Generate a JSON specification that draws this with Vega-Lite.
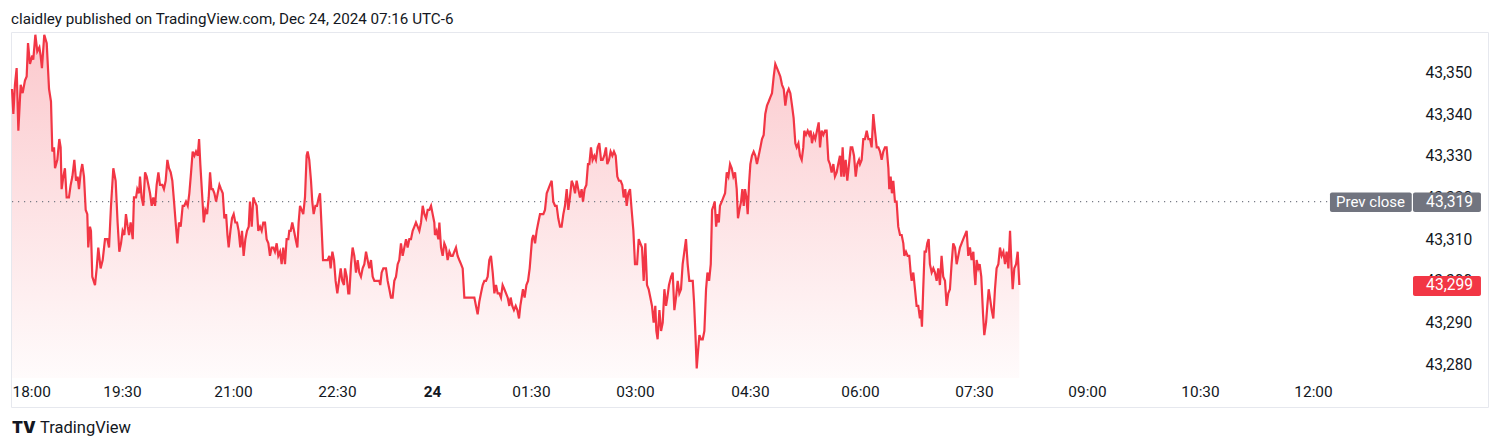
{
"$schema":"https://vega.github.io/schema/vega-lite/v6.json",
"width":1477,"height":375,
"autosize":{"type":"none"},
"padding":{"left":11,"top":32,"right":12,"bottom":41},
"background":"white",
"config":{"view":{"stroke":"#e6e8ee","strokeWidth":1},"font":"Roboto"},
"title":{"text":"claidley published on TradingView.com, Dec 24, 2024 07:16 UTC-6","anchor":"start","frame":"group","orient":"top","offset":13,"dy":17,"baseline":"middle","fontSize":15.2,"fontWeight":"normal","color":"#131722","font":"Roboto"},
"data":{"values":[
{"m":0,"p":43346},{"m":1.1,"p":43340},{"m":2.4,"p":43347},{"m":3.8,"p":43351},{"m":5.2,"p":43336},{"m":7.1,"p":43347},{"m":8.7,"p":43345},{"m":10.6,"p":43348},{"m":12.0,"p":43349},{"m":13.1,"p":43357},{"m":14.7,"p":43352},{"m":16.6,"p":43354},{"m":17.4,"p":43353},{"m":19.1,"p":43359},{"m":20.7,"p":43355},{"m":22.4,"p":43356},{"m":23.4,"p":43354},{"m":24.5,"p":43351},{"m":26.4,"p":43359},{"m":28.4,"p":43357},{"m":30.3,"p":43346},{"m":31.9,"p":43343},{"m":33.0,"p":43331},{"m":34.4,"p":43332},{"m":35.2,"p":43327},{"m":37.1,"p":43329},{"m":38.7,"p":43334},{"m":39.8,"p":43332},{"m":40.6,"p":43322},{"m":42.0,"p":43325},{"m":43.3,"p":43327},{"m":44.7,"p":43320},{"m":46.6,"p":43320},{"m":48.0,"p":43323},{"m":49.4,"p":43325},{"m":51.0,"p":43329},{"m":52.4,"p":43324},{"m":53.7,"p":43325},{"m":54.8,"p":43322},{"m":56.2,"p":43326},{"m":57.5,"p":43328},{"m":58.9,"p":43325},{"m":60.3,"p":43317},{"m":61.6,"p":43316},{"m":62.4,"p":43308},{"m":63.8,"p":43313},{"m":64.6,"p":43312},{"m":65.7,"p":43301},{"m":67.9,"p":43299},{"m":69.3,"p":43303},{"m":70.6,"p":43308},{"m":72.5,"p":43303},{"m":74.2,"p":43305},{"m":76.1,"p":43310},{"m":78.0,"p":43310},{"m":79.4,"p":43308},{"m":81.0,"p":43318},{"m":82.9,"p":43327},{"m":84.8,"p":43324},{"m":86.4,"p":43314},{"m":87.8,"p":43307},{"m":89.2,"p":43309},
{"m":90.5,"p":43312},{"m":91.9,"p":43311},{"m":93.2,"p":43316},{"m":94.6,"p":43313},{"m":95.7,"p":43311},{"m":97.0,"p":43314},{"m":98.7,"p":43310},{"m":99.7,"p":43320},{"m":101.4,"p":43320},{"m":102.4,"p":43322},{"m":103.8,"p":43321},{"m":104.6,"p":43325},{"m":105.9,"p":43320},{"m":107.3,"p":43318},{"m":108.7,"p":43326},{"m":110.0,"p":43325},{"m":111.4,"p":43323},{"m":112.7,"p":43321},{"m":114.1,"p":43318},{"m":115.4,"p":43320},{"m":116.8,"p":43318},{"m":118.1,"p":43323},{"m":119.5,"p":43326},{"m":120.8,"p":43323},{"m":122.7,"p":43323},{"m":124.0,"p":43322},{"m":125.4,"p":43324},{"m":126.8,"p":43329},{"m":128.1,"p":43327},{"m":129.5,"p":43326},{"m":130.8,"p":43324},{"m":132.2,"p":43319},{"m":133.5,"p":43314},{"m":134.9,"p":43309},{"m":136.2,"p":43314},
{"m":137.6,"p":43313},{"m":139.2,"p":43318},{"m":140.5,"p":43318},{"m":141.9,"p":43319},{"m":143.3,"p":43318},{"m":144.6,"p":43321},{"m":146.0,"p":43326},{"m":147.3,"p":43331},{"m":148.7,"p":43330},{"m":150.0,"p":43331},{"m":151.4,"p":43330},{"m":152.5,"p":43334},{"m":153.5,"p":43328},{"m":154.9,"p":43321},{"m":156.3,"p":43314},{"m":157.6,"p":43317},{"m":159.0,"p":43316},{"m":160.3,"p":43320},{"m":161.4,"p":43326},{"m":162.5,"p":43322},{"m":163.6,"p":43322},{"m":164.9,"p":43321},{"m":166.3,"p":43319},{"m":167.6,"p":43321},{"m":169.0,"p":43323},{"m":170.3,"p":43322},{"m":171.7,"p":43321},{"m":173.0,"p":43315},{"m":174.4,"p":43316},{"m":175.5,"p":43311},{"m":176.5,"p":43308},{"m":177.9,"p":43312},{"m":179.2,"p":43315},{"m":180.6,"p":43316},{"m":182.0,"p":43314},{"m":183.5,"p":43314},{"m":184.9,"p":43312},{"m":186.3,"p":43308},{"m":187.8,"p":43312},{"m":189.2,"p":43306},{"m":190.7,"p":43310},{"m":192.1,"p":43312},{"m":193.6,"p":43313},{"m":194.7,"p":43319},{"m":196.2,"p":43313},{"m":197.6,"p":43320},{"m":199.0,"p":43319},{"m":200.5,"p":43318},{"m":201.9,"p":43312},{"m":203.4,"p":43313},{"m":204.8,"p":43312},{"m":206.2,"p":43314},{"m":207.7,"p":43314},{"m":209.1,"p":43310},{"m":210.6,"p":43309},{"m":212.0,"p":43306},{"m":213.4,"p":43308},{"m":214.9,"p":43308},{"m":216.3,"p":43307},{"m":217.8,"p":43309},{"m":219.2,"p":43306},{"m":220.7,"p":43307},{"m":222.1,"p":43304},{"m":223.5,"p":43308},{"m":225.0,"p":43304},{"m":226.4,"p":43310},{"m":227.9,"p":43310},{"m":228.7,"p":43312},{"m":229.9,"p":43312},{"m":231.3,"p":43314},{"m":232.8,"p":43312},{"m":234.2,"p":43310},{"m":235.7,"p":43308},{"m":236.8,"p":43314},{"m":238.0,"p":43318},{"m":239.4,"p":43317},{"m":240.8,"p":43316},{"m":242.3,"p":43320},{"m":243.7,"p":43330},{"m":244.6,"p":43331},{"m":246.0,"p":43329},{"m":247.5,"p":43324},{"m":248.6,"p":43319},{"m":249.8,"p":43316},{"m":251.3,"p":43318},{"m":252.7,"p":43318},{"m":254.2,"p":43320},{"m":255.3,"p":43321},{"m":256.8,"p":43312},{"m":257.9,"p":43305},{"m":259.1,"p":43305},{"m":260.5,"p":43305},{"m":261.9,"p":43305},{"m":263.4,"p":43306},{"m":264.5,"p":43303},{"m":266.0,"p":43307},{"m":267.4,"p":43305},{"m":268.8,"p":43300},{"m":270.3,"p":43297},{"m":271.9,"p":43300},{"m":273.5,"p":43303},{"m":275.0,"p":43300},{"m":276.6,"p":43299},{"m":277.6,"p":43303},{"m":279.2,"p":43301},{"m":280.7,"p":43297},
{"m":281.7,"p":43297},{"m":283.3,"p":43304},{"m":284.8,"p":43308},{"m":286.4,"p":43306},{"m":288.0,"p":43302},{"m":289.6,"p":43305},{"m":291.1,"p":43302},{"m":292.7,"p":43301},{"m":294.3,"p":43303},{"m":295.9,"p":43304},{"m":297.5,"p":43307},{"m":299.0,"p":43305},{"m":300.6,"p":43303},{"m":302.2,"p":43305},{"m":303.8,"p":43301},{"m":305.4,"p":43300},{"m":306.9,"p":43300},{"m":308.5,"p":43300},{"m":310.1,"p":43300},{"m":311.0,"p":43299},{"m":312.3,"p":43302},{"m":313.9,"p":43303},{"m":316.4,"p":43303},{"m":318.0,"p":43300},{"m":319.6,"p":43298},{"m":321.1,"p":43296},{"m":322.7,"p":43296},{"m":324.3,"p":43300},{"m":325.9,"p":43301},{"m":327.5,"p":43304},{"m":329.0,"p":43305},{"m":330.6,"p":43309},{"m":332.2,"p":43306},{"m":333.8,"p":43308},{"m":335.4,"p":43310},{"m":336.9,"p":43308},{"m":338.5,"p":43310},{"m":340.1,"p":43310},{"m":341.7,"p":43312},{"m":343.3,"p":43313},{"m":344.8,"p":43314},{"m":346.4,"p":43313},{"m":348.0,"p":43312},{"m":349.6,"p":43314},{"m":351.2,"p":43318},{"m":352.8,"p":43316},{"m":354.4,"p":43315},{"m":355.9,"p":43317},{"m":357.5,"p":43317},{"m":359.1,"p":43318},{"m":360.6,"p":43316},{"m":362.1,"p":43314},{"m":362.7,"p":43311},{"m":364.2,"p":43312},{"m":365.8,"p":43310},{"m":366.7,"p":43314},{"m":368.2,"p":43308},{"m":369.7,"p":43306},{"m":371.2,"p":43309},{"m":372.7,"p":43308},{"m":374.2,"p":43305},{"m":375.8,"p":43307},{"m":377.3,"p":43306},{"m":378.8,"p":43306},{"m":380.3,"p":43307},{"m":381.8,"p":43308},{"m":383.3,"p":43306},{"m":384.8,"p":43305},{"m":386.4,"p":43304},{"m":387.9,"p":43303},{"m":389.4,"p":43296},{"m":390.9,"p":43296},{"m":392.4,"p":43296},{"m":393.9,"p":43296},{"m":395.5,"p":43296},{"m":397.0,"p":43296},{"m":398.5,"p":43296},{"m":400.0,"p":43294},{"m":401.5,"p":43292},{"m":403.0,"p":43295},{"m":404.5,"p":43297},{"m":406.1,"p":43299},{"m":407.6,"p":43300},{"m":409.1,"p":43300},{"m":410.6,"p":43301},{"m":412.1,"p":43305},{"m":413.6,"p":43306},{"m":415.2,"p":43302},{"m":416.7,"p":43297},{"m":418.2,"p":43299},{"m":419.7,"p":43297},{"m":421.2,"p":43297},{"m":422.7,"p":43296},{"m":424.2,"p":43299},{"m":425.8,"p":43298},{"m":427.3,"p":43297},{"m":428.8,"p":43296},{"m":430.3,"p":43294},{"m":431.5,"p":43296},{"m":433.0,"p":43294},{"m":434.5,"p":43293},{"m":436.1,"p":43294},{"m":437.6,"p":43293},{"m":439.1,"p":43291},
{"m":440.3,"p":43294},{"m":441.5,"p":43296},{"m":442.7,"p":43298},{"m":444.2,"p":43296},{"m":445.8,"p":43299},{"m":447.3,"p":43300},{"m":448.8,"p":43303},{"m":450.9,"p":43310},{"m":452.0,"p":43311},{"m":453.5,"p":43309},{"m":454.9,"p":43312},{"m":456.3,"p":43314},{"m":457.8,"p":43316},{"m":459.2,"p":43316},{"m":460.7,"p":43316},{"m":462.1,"p":43317},{"m":463.6,"p":43321},{"m":465.0,"p":43322},{"m":466.4,"p":43323},{"m":467.9,"p":43324},{"m":469.3,"p":43319},{"m":470.8,"p":43318},{"m":472.2,"p":43318},{"m":473.6,"p":43315},{"m":475.1,"p":43313},{"m":476.5,"p":43313},{"m":478.0,"p":43316},{"m":479.4,"p":43318},{"m":480.9,"p":43322},{"m":482.3,"p":43317},{"m":483.7,"p":43320},{"m":485.2,"p":43324},{"m":486.6,"p":43323},{"m":488.1,"p":43321},{"m":489.5,"p":43324},{"m":490.9,"p":43322},{"m":492.4,"p":43320},{"m":493.8,"p":43322},{"m":495.0,"p":43319},{"m":496.4,"p":43322},{"m":497.9,"p":43323},{"m":499.3,"p":43328},{"m":500.5,"p":43328},{"m":501.9,"p":43332},{"m":503.3,"p":43329},{"m":504.8,"p":43330},{"m":506.2,"p":43329},{"m":507.7,"p":43332},{"m":509.1,"p":43333},{"m":510.6,"p":43329},{"m":512.0,"p":43329},{"m":513.4,"p":43330},{"m":514.9,"p":43332},{"m":516.0,"p":43328},{"m":517.5,"p":43329},{"m":518.9,"p":43331},{"m":520.4,"p":43330},{"m":521.8,"p":43331},{"m":523.3,"p":43330},{"m":524.7,"p":43325},{"m":526.1,"p":43324},{"m":527.6,"p":43324},{"m":529.0,"p":43323},{"m":530.2,"p":43320},{"m":531.6,"p":43322},{"m":532.8,"p":43318},{"m":534.2,"p":43321},{"m":535.7,"p":43322},{"m":537.1,"p":43317},{"m":538.6,"p":43312},{"m":540.0,"p":43304},{"m":541.6,"p":43304},{"m":542.9,"p":43310},{"m":544.2,"p":43309},{"m":545.5,"p":43308},{"m":546.8,"p":43300},{"m":548.1,"p":43309},{"m":549.4,"p":43299},{"m":550.7,"p":43298},{"m":552.0,"p":43296},{"m":553.3,"p":43294},{"m":554.6,"p":43290},{"m":555.9,"p":43294},{"m":556.7,"p":43288},{"m":557.7,"p":43286},{"m":559.1,"p":43293},{"m":560.4,"p":43288},{"m":561.7,"p":43290},{"m":563.0,"p":43298},{"m":564.3,"p":43294},{"m":565.3,"p":43296},{"m":566.6,"p":43299},{"m":568.2,"p":43301},{"m":569.5,"p":43302},{"m":570.8,"p":43293},{"m":572.1,"p":43296},{"m":573.4,"p":43300},{"m":574.7,"p":43297},{"m":576.0,"p":43298},{"m":577.3,"p":43304},{"m":578.6,"p":43307},{"m":579.9,"p":43310},{"m":581.2,"p":43304},{"m":582.5,"p":43300},
{"m":583.9,"p":43300},{"m":585.2,"p":43300},{"m":586.2,"p":43295},{"m":587.2,"p":43288},{"m":588.3,"p":43279},{"m":589.3,"p":43283},{"m":590.4,"p":43287},{"m":591.7,"p":43286},{"m":593.0,"p":43286},{"m":594.3,"p":43288},{"m":595.6,"p":43298},{"m":596.7,"p":43302},{"m":598.0,"p":43300},{"m":599.3,"p":43304},{"m":600.3,"p":43317},{"m":601.4,"p":43318},{"m":602.4,"p":43319},{"m":603.5,"p":43313},{"m":604.5,"p":43316},{"m":605.6,"p":43314},{"m":606.5,"p":43318},{"m":607.9,"p":43319},{"m":609.2,"p":43320},{"m":610.5,"p":43321},{"m":611.8,"p":43326},{"m":613.1,"p":43325},{"m":614.4,"p":43328},{"m":615.7,"p":43327},{"m":617.0,"p":43325},{"m":618.3,"p":43326},{"m":619.6,"p":43322},{"m":620.6,"p":43315},{"m":621.7,"p":43317},{"m":623.0,"p":43319},{"m":624.0,"p":43322},{"m":625.1,"p":43318},{"m":626.1,"p":43322},{"m":627.2,"p":43320},{"m":628.2,"p":43316},{"m":629.2,"p":43323},{"m":630.3,"p":43328},{"m":631.6,"p":43330},{"m":633.0,"p":43331},{"m":634.4,"p":43330},{"m":635.7,"p":43328},{"m":637.1,"p":43330},{"m":638.5,"p":43332},{"m":639.8,"p":43334},{"m":641.2,"p":43335},{"m":642.5,"p":43340},{"m":643.9,"p":43342},{"m":645.3,"p":43343},{"m":646.6,"p":43344},{"m":648.0,"p":43345},{"m":649.4,"p":43349},{"m":650.7,"p":43352},{"m":652.1,"p":43351},{"m":653.5,"p":43350},{"m":654.8,"p":43349},{"m":656.2,"p":43347},{"m":657.6,"p":43346},{"m":658.9,"p":43342},{"m":660.3,"p":43345},{"m":661.7,"p":43346},{"m":663.0,"p":43345},{"m":664.4,"p":43342},{"m":665.7,"p":43339},{"m":667.1,"p":43333},{"m":668.2,"p":43332},{"m":669.6,"p":43333},{"m":670.9,"p":43330},{"m":672.3,"p":43329},{"m":673.6,"p":43332},{"m":674.4,"p":43336},{"m":675.8,"p":43335},{"m":677.2,"p":43336},{"m":678.5,"p":43335},{"m":679.6,"p":43336},{"m":680.7,"p":43333},{"m":682.1,"p":43335},{"m":683.4,"p":43334},{"m":684.8,"p":43336},{"m":686.2,"p":43338},{"m":687.3,"p":43332},{"m":688.6,"p":43336},{"m":690.0,"p":43335},{"m":691.4,"p":43336},{"m":692.7,"p":43336},{"m":694.1,"p":43329},{"m":695.4,"p":43328},{"m":696.8,"p":43326},{"m":698.2,"p":43328},{"m":699.5,"p":43325},{"m":700.9,"p":43326},{"m":702.2,"p":43328},{"m":703.6,"p":43330},{"m":704.7,"p":43325},{"m":705.8,"p":43332},{"m":706.9,"p":43325},{"m":708.3,"p":43329},{"m":709.6,"p":43324},{"m":711.0,"p":43328},{"m":712.4,"p":43332},{"m":713.7,"p":43332},{"m":715.1,"p":43330},{"m":716.5,"p":43325},{"m":717.8,"p":43328},{"m":719.2,"p":43329},
{"m":720.0,"p":43328},{"m":721.3,"p":43329},{"m":722.6,"p":43334},{"m":723.9,"p":43334},{"m":725.3,"p":43336},{"m":726.6,"p":43334},{"m":727.9,"p":43334},{"m":729.2,"p":43332},{"m":730.5,"p":43340},{"m":731.8,"p":43336},{"m":733.2,"p":43332},{"m":734.5,"p":43332},{"m":735.8,"p":43331},{"m":737.1,"p":43329},{"m":738.4,"p":43331},{"m":739.7,"p":43332},{"m":741.0,"p":43332},{"m":742.4,"p":43327},{"m":743.1,"p":43322},{"m":744.2,"p":43325},{"m":745.2,"p":43321},{"m":746.3,"p":43324},{"m":747.6,"p":43319},{"m":748.9,"p":43319},{"m":750.2,"p":43313},{"m":751.6,"p":43311},{"m":752.9,"p":43311},{"m":754.2,"p":43309},{"m":755.0,"p":43306},{"m":756.3,"p":43307},{"m":757.6,"p":43306},{"m":758.9,"p":43306},{"m":760.0,"p":43302},{"m":760.8,"p":43300},{"m":762.1,"p":43302},{"m":763.4,"p":43298},{"m":764.7,"p":43294},{"m":766.0,"p":43294},{"m":767.3,"p":43291},{"m":768.1,"p":43293},{"m":768.9,"p":43289},{"m":769.9,"p":43298},{"m":771.0,"p":43307},{"m":772.1,"p":43307},{"m":773.1,"p":43309},{"m":774.2,"p":43310},{"m":775.2,"p":43304},{"m":776.6,"p":43302},{"m":777.9,"p":43303},{"m":779.2,"p":43302},{"m":780.5,"p":43300},{"m":781.8,"p":43303},{"m":783.1,"p":43299},{"m":784.4,"p":43306},{"m":785.7,"p":43301},{"m":787.1,"p":43300},{"m":788.4,"p":43294},{"m":789.7,"p":43297},{"m":791.0,"p":43298},{"m":792.3,"p":43304},{"m":793.6,"p":43309},{"m":795.0,"p":43308},{"m":796.3,"p":43304},{"m":797.6,"p":43306},{"m":798.9,"p":43308},{"m":800.2,"p":43309},{"m":801.5,"p":43310},{"m":802.9,"p":43311},{"m":804.2,"p":43312},{"m":805.5,"p":43306},{"m":806.8,"p":43308},{"m":808.1,"p":43305},{"m":809.5,"p":43307},{"m":810.3,"p":43302},{"m":811.1,"p":43299},{"m":812.1,"p":43305},{"m":813.4,"p":43303},{"m":814.5,"p":43304},{"m":815.8,"p":43301},{"m":817.2,"p":43292},{"m":818.2,"p":43287},{"m":819.6,"p":43290},{"m":820.6,"p":43294},{"m":821.7,"p":43298},{"m":822.7,"p":43296},{"m":824.1,"p":43293},{"m":825.4,"p":43291},{"m":826.7,"p":43298},{"m":828.0,"p":43303},{"m":829.4,"p":43304},{"m":830.7,"p":43308},{"m":832.0,"p":43306},{"m":833.4,"p":43307},{"m":834.7,"p":43304},{"m":836.0,"p":43307},{"m":837.4,"p":43303},{"m":838.7,"p":43312},{"m":839.8,"p":43304},{"m":840.8,"p":43298},{"m":842.1,"p":43303},{"m":843.5,"p":43304},{"m":844.8,"p":43307},{"m":846.1,"p":43299}
]},
"layer":[
{"mark":{"type":"area","interpolate":"linear","color":{"gradient":"linear","x1":0,"y1":0,"x2":0,"y2":1,"stops":[{"offset":0,"color":"rgba(242,54,69,0.27)"},{"offset":1,"color":"rgba(242,54,69,0.02)"}]}},
 "encoding":{
  "x":{"field":"m","type":"quantitative","scale":{"domain":[0,90,180,270,360,450,540,630,720,810,900,990,1080,1219.3],"range":[1,111,222,326,421,520,624,739,849,963,1076,1189,1302,1477],"nice":false,"zero":false},
   "axis":{"values":[0,90,180,270,360,450,540,630,720,810,900,990,1080],"labelExpr":"['18:00','19:30','21:00','22:30','24','01:30','03:00','04:30','06:00','07:30','09:00','10:30','12:00'][round(datum.value/90)]","labelFlush":3,"labelOverlap":false,"labelBound":false,"domain":false,"ticks":false,"tickSize":0,"grid":false,"title":null,"offset":-29,"labelPadding":13,"labelBaseline":"middle","labelFontSize":15.4,"labelFont":"Roboto","labelColor":"#131722","labelFontWeight":{"condition":{"test":"datum.value == 360","value":"bold"},"value":"normal"}}},
  "y":{"field":"p","type":"quantitative","scale":{"domain":[43276.72,43359.66],"range":[346,0],"nice":false,"zero":false},
   "axis":{"orient":"right","values":[43280,43290,43300,43310,43320,43330,43340,43350],"format":",.0f","offset":-63,"labelAlign":"left","labelPadding":0,"labelBaseline":"middle","ticks":false,"tickSize":0,"domain":false,"grid":false,"title":null,"labelFontSize":15.6,"labelFont":"Roboto","labelColor":"#131722"}},
  "y2":{"datum":43276.72}}},
{"data":{"values":[{"label":"Prev close","price":43319}]},
 "mark":{"type":"rule","strokeDash":[1.2,4.8],"color":"#787b86","strokeWidth":1.2},
 "encoding":{"x":{"datum":0,"type":"quantitative"},"x2":{"datum":1158},"y":{"field":"price","type":"quantitative"}}},
{"mark":{"type":"line","color":"#f23645","strokeWidth":2.2,"interpolate":"linear"},
 "encoding":{"x":{"field":"m","type":"quantitative"},"y":{"field":"p","type":"quantitative"}}},
{"data":{"values":[{"label":"Prev close"}]},
 "mark":{"type":"rect","color":"#71747f","cornerRadius":2},
 "encoding":{"x":{"datum":1093.5,"type":"quantitative"},"x2":{"datum":1158.6},"y":{"datum":43321.2,"type":"quantitative"},"y2":{"datum":43316.5}}},
{"data":{"values":[{"label":"43,319"}]},
 "mark":{"type":"rect","color":"#71747f","cornerRadius":2},
 "encoding":{"x":{"datum":1159.6,"type":"quantitative"},"x2":{"datum":1213.7},"y":{"datum":43321.2,"type":"quantitative"},"y2":{"datum":43316.5}}},
{"data":{"values":[{"label":"43,299"}]},
 "mark":{"type":"rect","color":"#f23645","cornerRadius":2},
 "encoding":{"x":{"datum":1159.6,"type":"quantitative"},"x2":{"datum":1213.7},"y":{"datum":43301.2,"type":"quantitative"},"y2":{"datum":43296.4}}},
{"data":{"values":[{"label":"Prev close","price":43319}]},
 "mark":{"type":"text","color":"white","fontSize":15,"font":"Roboto","align":"center","baseline":"middle"},
 "encoding":{"x":{"datum":1125.8,"type":"quantitative"},"y":{"field":"price","type":"quantitative"},"text":{"field":"label"}}},
{"data":{"values":[{"label":"43,319","price":43319},{"label":"43,299","price":43299}]},
 "mark":{"type":"text","color":"white","fontSize":15.6,"font":"Roboto","align":"center","baseline":"middle"},
 "encoding":{"x":{"datum":1188.7,"type":"quantitative"},"y":{"field":"price","type":"quantitative"},"text":{"field":"label"}}},
{"data":{"values":[{"label":"TV"}]},
 "mark":{"type":"text","color":"#131722","fontSize":16,"font":"Inter","fontWeight":900,"align":"left","baseline":"middle"},
 "encoding":{"x":{"datum":0,"type":"quantitative"},"y":{"datum":43264.8,"type":"quantitative"},"text":{"field":"label"}}},
{"data":{"values":[{"label":"TradingView"}]},
 "mark":{"type":"text","color":"#131722","fontSize":16.5,"font":"Roboto","fontWeight":"normal","align":"left","baseline":"middle"},
 "encoding":{"x":{"datum":22.9,"type":"quantitative"},"y":{"datum":43264.8,"type":"quantitative"},"text":{"field":"label"}}}
]
}
